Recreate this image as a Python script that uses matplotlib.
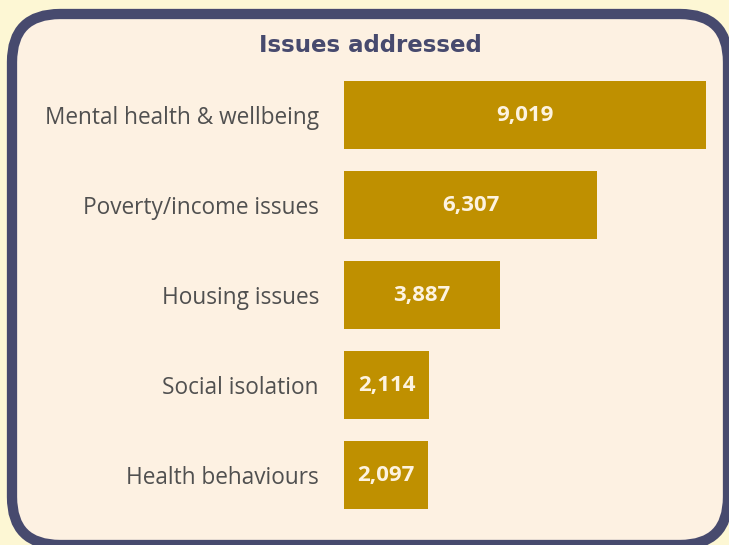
import matplotlib.pyplot as plt
from matplotlib.patches import FancyBboxPatch

# data
categories = ["Mental health & wellbeing", "Poverty/income issues", "Housing issues",
              "Social isolation", "Health behaviours"]
values = [9019, 6307, 3887, 2114, 2097]

bg_outer = "#fdf7d4"
bg_inner = "#fdf1e2"
border = "#474a6e"
bar_color = "#bf9000"

fig = plt.figure(figsize=(7.29, 5.45), dpi=100)
fig.patch.set_facecolor(bg_outer)

# background panel in pixel coords
bg = fig.add_axes([0, 0, 1, 1])
bg.set_xlim(0, 729)
bg.set_ylim(545, 0)
bg.axis("off")
panel = FancyBboxPatch((12 + 48, 14 + 48), 716 - 96, 531 - 96,
                       boxstyle="round,pad=48", facecolor=bg_inner,
                       edgecolor=border, linewidth=7.4, clip_on=False)
bg.add_patch(panel)
bg.text(370, 45, "Issues addressed", ha="center", va="center",
        fontsize=16.5, fontweight="bold", color=border, family="DejaVu Sans")

# bar chart
ax = fig.add_axes([344 / 729, 1 - 520 / 545, 362 / 729, 450 / 545])
ax.patch.set_alpha(0)
y = list(range(len(categories)))
ax.barh(y, values, height=0.76, color=bar_color)
ax.set_xlim(0, values[0])
ax.set_ylim(len(categories) - 0.5, -0.5)
ax.set_yticks(y)
ax.set_yticklabels(categories, fontsize=16.3, color="#505050", family="Open Sans")
ax.tick_params(axis="y", length=0, pad=18)
ax.set_xticks([])
for s in ax.spines.values():
    s.set_visible(False)

for yi, v in zip(y, values):
    ax.text(v / 2, yi, f"{v:,}", ha="center", va="center", color="#fdf3e0",
            fontsize=16, fontweight="bold", family="Open Sans")

fig.savefig("out.png", dpi=100, facecolor=fig.get_facecolor())
